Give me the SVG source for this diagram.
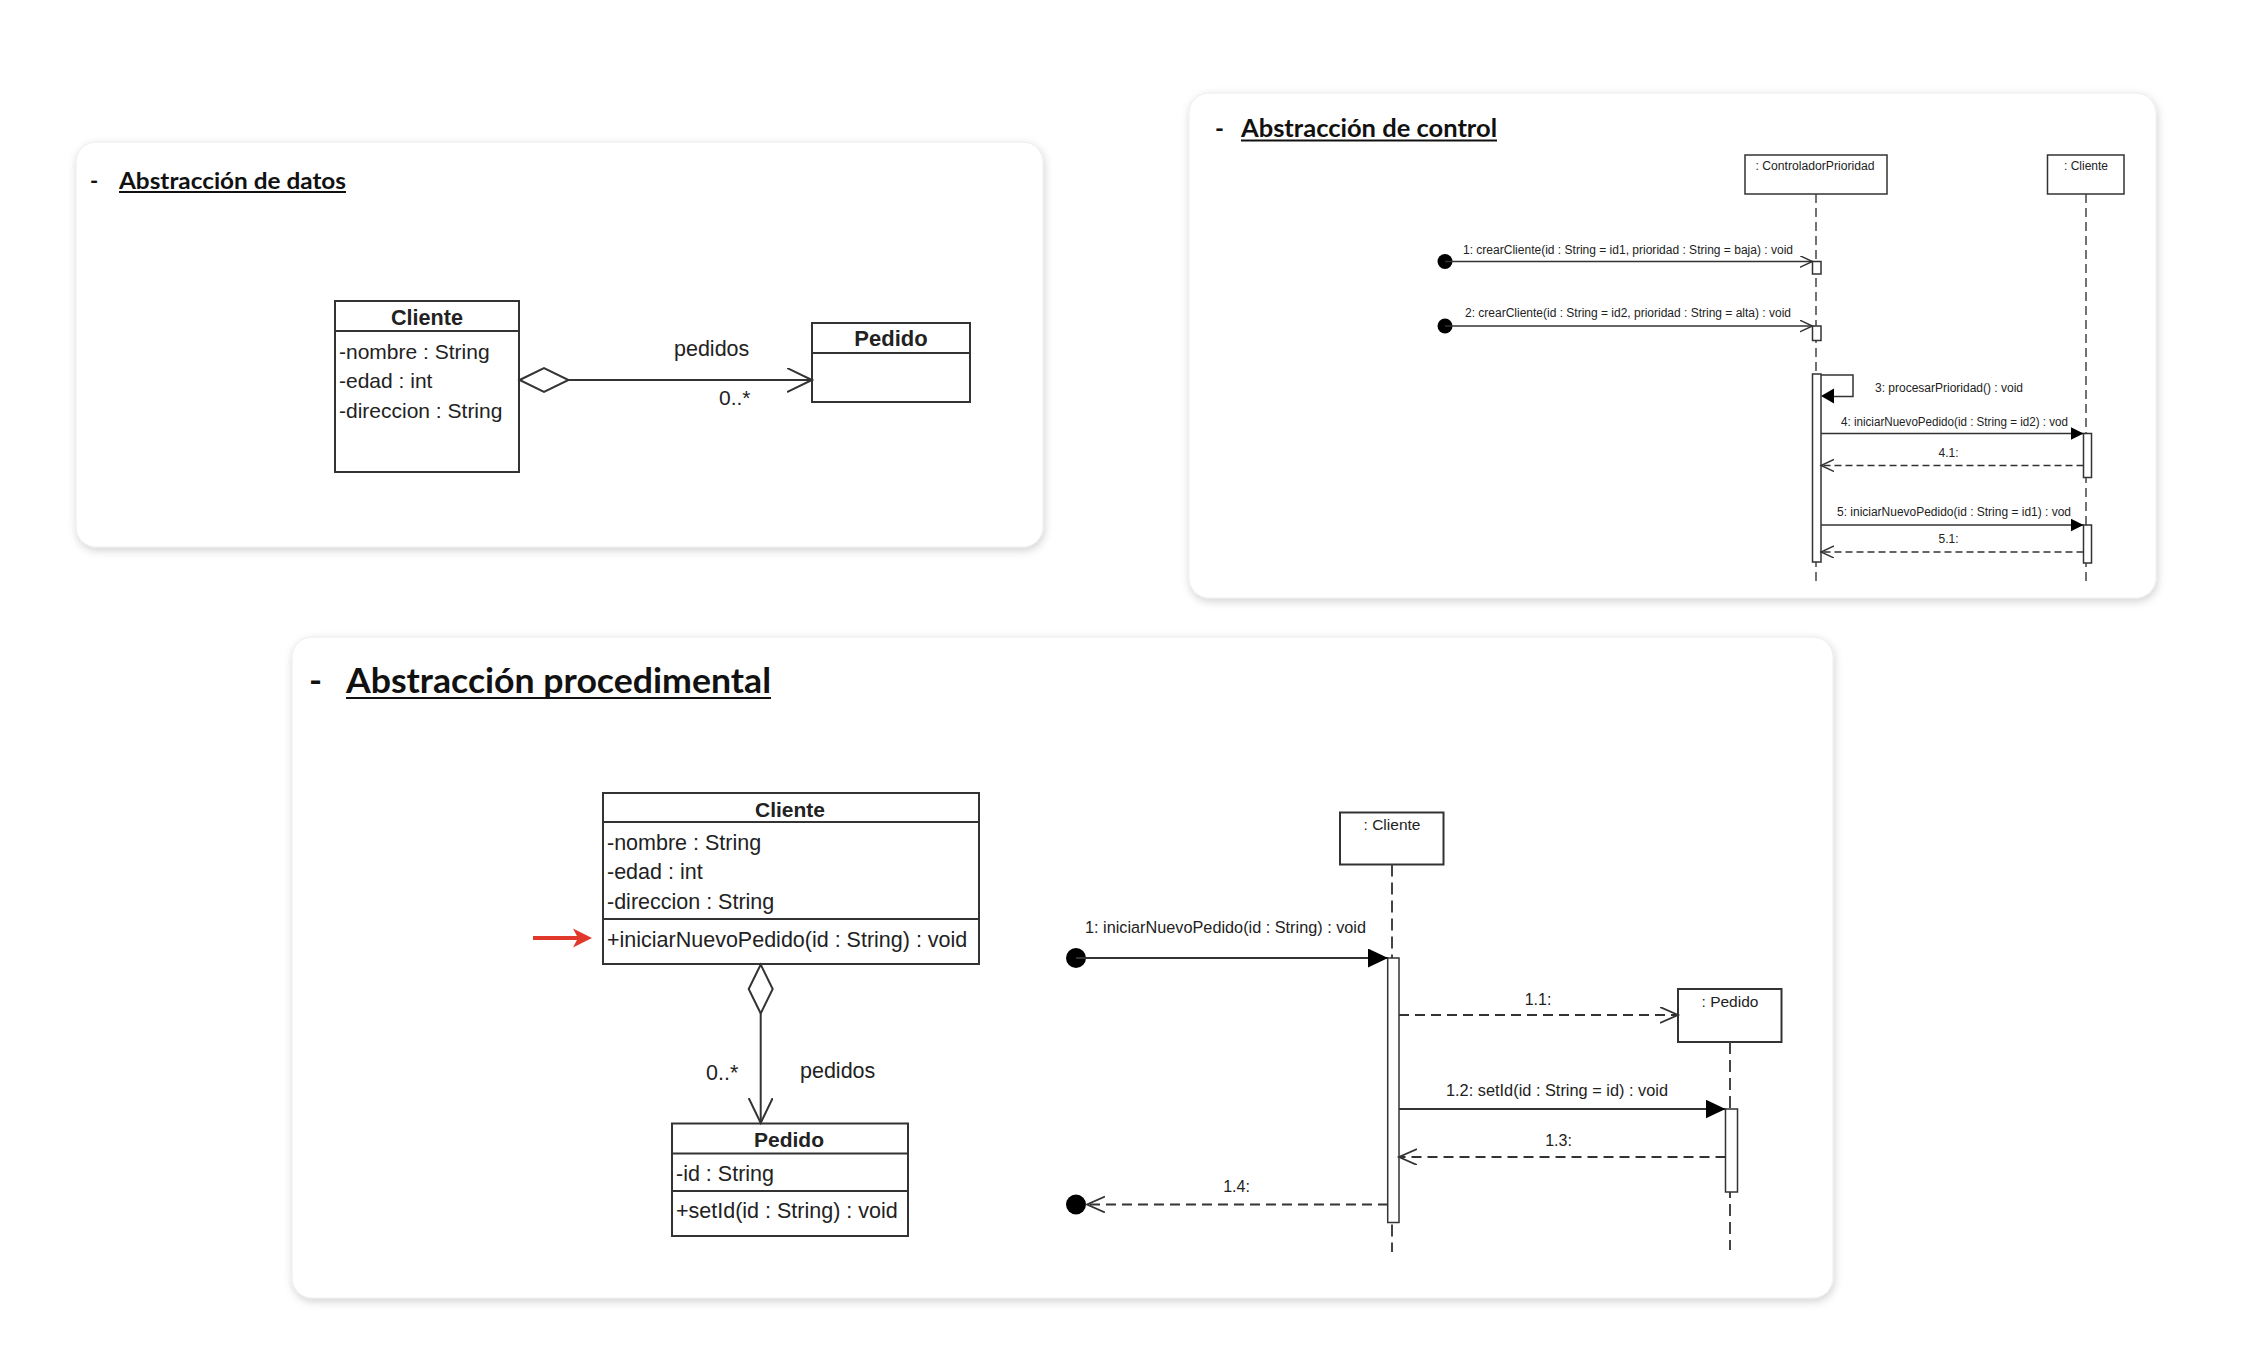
<svg xmlns="http://www.w3.org/2000/svg" width="2246" height="1364" viewBox="0 0 2246 1364">
  <style>
    .card { fill: #ffffff; stroke: #ececec; stroke-width: 1; }
    .title { font-family: Lato, "Open Sans", "Liberation Sans", sans-serif; font-weight: bold; fill: #111; }
    .uline { stroke: #111; stroke-width: 2; }
    .box { fill: #ffffff; stroke: #333; stroke-width: 2; }
    .sep { stroke: #333; stroke-width: 2; }
    .t { font-family: "Liberation Sans", Arial, sans-serif; fill: #222; }
    .b { font-weight: bold; }
    .line { fill: none; stroke: #333; stroke-width: 2; }
    .thin { fill: none; stroke: #333; stroke-width: 1.5; }
    .dash { stroke-dasharray: 10 6; }
    .dash-s { stroke-dasharray: 7 4; }
    .life { fill: none; stroke: #444; stroke-width: 2; stroke-dasharray: 12 6; }
    .life-s { fill: none; stroke: #444; stroke-width: 1.5; stroke-dasharray: 9 5; }
    .act { fill: #ffffff; stroke: #333; stroke-width: 1.5; }
    .dot { fill: #000; }
  </style>
  <defs>
    <filter id="card-shadow" x="-5%" y="-5%" width="110%" height="115%">
      <feDropShadow dx="1" dy="3" stdDeviation="4" flood-color="#000" flood-opacity="0.18"/>
    </filter>
    <marker id="open-uml" markerUnits="userSpaceOnUse" markerWidth="28" markerHeight="28" refX="25" refY="12" orient="auto">
      <path d="M0,0 L25,12 L0,24" fill="none" stroke="#333" stroke-width="2"/>
    </marker>
    <marker id="open-lg" markerUnits="userSpaceOnUse" markerWidth="22" markerHeight="20" refX="18" refY="8" orient="auto">
      <path d="M0,0 L18,8 L0,16" fill="none" stroke="#333" stroke-width="1.8"/>
    </marker>
    <marker id="fill-lg" markerUnits="userSpaceOnUse" markerWidth="22" markerHeight="20" refX="20" refY="9.5" orient="auto">
      <path d="M0,0 L20,9.5 L0,19 Z" fill="#000"/>
    </marker>
    <marker id="open-sm" markerUnits="userSpaceOnUse" markerWidth="16" markerHeight="14" refX="13" refY="6" orient="auto">
      <path d="M0,0 L13,6 L0,12" fill="none" stroke="#333" stroke-width="1.4"/>
    </marker>
    <marker id="fill-sm" markerUnits="userSpaceOnUse" markerWidth="16" markerHeight="16" refX="13" refY="6.5" orient="auto">
      <path d="M0,0 L13,6.5 L0,13 Z" fill="#000"/>
    </marker>
  </defs>

  <rect width="2246" height="1364" fill="#ffffff"/>

  <!-- cards -->
  <g id="cards" filter="url(#card-shadow)">
    <rect class="card" x="76" y="142" width="967" height="405" rx="20"/>
    <rect class="card" x="1189" y="93" width="967" height="505" rx="20"/>
    <rect class="card" x="292" y="637" width="1541" height="661" rx="20"/>
  </g>

  <!-- headings -->
  <g id="headings">
    <text class="title" x="90" y="189" font-size="22">-</text>
    <text class="title" x="119" y="189" font-size="22" textLength="227" lengthAdjust="spacingAndGlyphs">Abstracción de datos</text>
    <line class="uline" x1="119" y1="192" x2="346" y2="192"/>

    <text class="title" x="1215" y="137" font-size="24">-</text>
    <text class="title" x="1241" y="137" font-size="24" textLength="256" lengthAdjust="spacingAndGlyphs">Abstracción de control</text>
    <line class="uline" x1="1241" y1="140.5" x2="1497" y2="140.5"/>

    <text class="title" x="309" y="693" font-size="35">-</text>
    <text class="title" x="346" y="693" font-size="35" textLength="425" lengthAdjust="spacingAndGlyphs">Abstracción procedimental</text>
    <line class="uline" x1="346" y1="698" x2="771" y2="698" stroke-width="2.5"/>
  </g>

  <!-- ===== data abstraction: class diagram ===== -->
  <g id="datos-cliente">
    <rect class="box" x="335" y="301" width="184" height="171"/>
    <line class="sep" x1="335" y1="331" x2="519" y2="331"/>
    <text class="t b" x="427" y="325" font-size="22" text-anchor="middle" textLength="72" lengthAdjust="spacingAndGlyphs">Cliente</text>
    <text class="t" x="339" y="358.5" font-size="21">-nombre : String</text>
    <text class="t" x="339" y="388" font-size="21">-edad : int</text>
    <text class="t" x="339" y="417.5" font-size="21">-direccion : String</text>
  </g>
  <g id="datos-pedido">
    <rect class="box" x="812" y="323" width="158" height="79"/>
    <line class="sep" x1="812" y1="353" x2="970" y2="353"/>
    <text class="t b" x="891" y="346" font-size="22" text-anchor="middle">Pedido</text>
  </g>

  <!-- ===== control abstraction: sequence diagram ===== -->
  <g id="ctl-controlador">
    <rect class="act" x="1745" y="155" width="142" height="39"/>
    <text class="t" x="1815" y="170" font-size="12" text-anchor="middle" textLength="119" lengthAdjust="spacingAndGlyphs">: ControladorPrioridad</text>
    <line class="life-s" x1="1816" y1="194" x2="1816" y2="585"/>
    <rect class="act" x="1812.5" y="261.5" width="8.5" height="12.5"/>
    <rect class="act" x="1812.5" y="326" width="8.5" height="14.5"/>
    <rect class="act" x="1812.5" y="374" width="8.5" height="188"/>
  </g>
  <g id="ctl-cliente">
    <rect class="act" x="2047.5" y="155" width="76.5" height="39"/>
    <text class="t" x="2086" y="170" font-size="12" text-anchor="middle">: Cliente</text>
    <line class="life-s" x1="2086" y1="194" x2="2086" y2="585"/>
    <rect class="act" x="2083.5" y="433.5" width="8" height="44"/>
    <rect class="act" x="2083.5" y="525" width="8" height="38"/>
  </g>

  <!-- ===== procedural abstraction: class diagram ===== -->
  <g id="proc-cliente">
    <rect class="box" x="603" y="793" width="376" height="171"/>
    <line class="sep" x1="603" y1="822" x2="979" y2="822"/>
    <line class="sep" x1="603" y1="919" x2="979" y2="919"/>
    <text class="t b" x="790" y="816.5" font-size="21" text-anchor="middle">Cliente</text>
    <text class="t" x="607" y="850" font-size="21.5">-nombre : String</text>
    <text class="t" x="607" y="879" font-size="21.5">-edad : int</text>
    <text class="t" x="607" y="908.5" font-size="21.5">-direccion : String</text>
    <text class="t" x="607" y="946.5" font-size="21.5">+iniciarNuevoPedido(id : String) : void</text>
  </g>
  <g id="proc-pedido">
    <rect class="box" x="672" y="1123.5" width="236" height="112.5"/>
    <line class="sep" x1="672" y1="1153.5" x2="908" y2="1153.5"/>
    <line class="sep" x1="672" y1="1191" x2="908" y2="1191"/>
    <text class="t b" x="789" y="1146.5" font-size="21" text-anchor="middle">Pedido</text>
    <text class="t" x="676" y="1180.5" font-size="21.5">-id : String</text>
    <text class="t" x="676" y="1217.5" font-size="21.5">+setId(id : String) : void</text>
  </g>
  <g id="proc-highlight">
    <line x1="533" y1="938" x2="580" y2="938" stroke="#e0392b" stroke-width="4"/>
    <path d="M573,928.5 L592,938 L573,947.5 L578,938 Z" fill="#e0392b"/>
  </g>

  <!-- ===== procedural abstraction: sequence diagram ===== -->
  <g id="seq-cliente">
    <rect class="box" x="1340" y="812.5" width="103.5" height="52"/>
    <text class="t" x="1392" y="829.5" font-size="15.5" text-anchor="middle">: Cliente</text>
    <line class="life" x1="1392" y1="864.5" x2="1392" y2="1252"/>
    <rect class="act" x="1387.7" y="958" width="11.3" height="264.5"/>
  </g>
  <g id="seq-pedido">
    <rect class="box" x="1678" y="989" width="103.5" height="53"/>
    <text class="t" x="1730" y="1007" font-size="15.5" text-anchor="middle">: Pedido</text>
    <line class="life" x1="1730" y1="1042" x2="1730" y2="1250"/>
    <rect class="act" x="1725.5" y="1109" width="12" height="83"/>
  </g>

  <!-- connectors -->
  <g id="connectors">
    <!-- data abstraction: aggregation Cliente to Pedido -->
    <g id="agg-datos">
      <path d="M519.6,380 L544,368 L568.5,380 L544,392 Z" fill="#fff" stroke="#333" stroke-width="2"/>
      <line class="line" x1="568.5" y1="380" x2="812" y2="380" marker-end="url(#open-uml)"/>
      <text class="t" x="674" y="356" font-size="21.5">pedidos</text>
      <text class="t" x="719" y="405" font-size="21">0..*</text>
    </g>

    <!-- control abstraction messages -->
    <g id="ctl-msgs">
      <circle class="dot" cx="1445" cy="261.5" r="7.5"/>
      <line class="thin" x1="1445" y1="261.5" x2="1812.5" y2="261.5" marker-end="url(#open-sm)"/>
      <text class="t" x="1463" y="254" font-size="12" textLength="330" lengthAdjust="spacingAndGlyphs">1: crearCliente(id : String = id1, prioridad : String = baja) : void</text>

      <circle class="dot" cx="1445" cy="326" r="7.5"/>
      <line class="thin" x1="1445" y1="326" x2="1812.5" y2="326" marker-end="url(#open-sm)"/>
      <text class="t" x="1465" y="317" font-size="12" textLength="326" lengthAdjust="spacingAndGlyphs">2: crearCliente(id : String = id2, prioridad : String = alta) : void</text>

      <polyline class="thin" points="1821,375 1853,375 1853,396.5 1834,396.5"/>
      <path d="M1821,396 L1834,388.5 L1834,403.5 Z" fill="#000"/>
      <text class="t" x="1875" y="392" font-size="12" textLength="148" lengthAdjust="spacingAndGlyphs">3: procesarPrioridad() : void</text>

      <line class="thin" x1="1821" y1="433.5" x2="2083.5" y2="433.5" marker-end="url(#fill-sm)"/>
      <text class="t" x="1841" y="426" font-size="12" textLength="227" lengthAdjust="spacingAndGlyphs">4: iniciarNuevoPedido(id : String = id2) : vod</text>
      <line class="thin dash-s" x1="2083.5" y1="465.5" x2="1821" y2="465.5" marker-end="url(#open-sm)"/>
      <text class="t" x="1948.5" y="457" font-size="12" text-anchor="middle">4.1:</text>

      <line class="thin" x1="1821" y1="525" x2="2083.5" y2="525" marker-end="url(#fill-sm)"/>
      <text class="t" x="1837" y="516" font-size="12" textLength="234" lengthAdjust="spacingAndGlyphs">5: iniciarNuevoPedido(id : String = id1) : vod</text>
      <line class="thin dash-s" x1="2083.5" y1="552" x2="1821" y2="552" marker-end="url(#open-sm)"/>
      <text class="t" x="1948.5" y="543" font-size="12" text-anchor="middle">5.1:</text>
    </g>

    <!-- procedural abstraction: aggregation Cliente to Pedido -->
    <g id="agg-proc">
      <path d="M760.7,964.5 L772.7,989 L760.7,1013.5 L748.7,989 Z" fill="#fff" stroke="#333" stroke-width="2"/>
      <line class="line" x1="760.7" y1="1013.5" x2="760.7" y2="1123" marker-end="url(#open-uml)"/>
      <text class="t" x="706" y="1079.5" font-size="21.5">0..*</text>
      <text class="t" x="800" y="1077.5" font-size="21.5">pedidos</text>
    </g>

    <!-- procedural abstraction messages -->
    <g id="seq-msgs">
      <circle class="dot" cx="1076" cy="958" r="10"/>
      <line class="line" x1="1076" y1="958" x2="1388" y2="958" marker-end="url(#fill-lg)"/>
      <text class="t" x="1085" y="932.5" font-size="16.3" textLength="281" lengthAdjust="spacingAndGlyphs">1: iniciarNuevoPedido(id : String) : void</text>

      <line class="line dash" x1="1399" y1="1015" x2="1678" y2="1015" marker-end="url(#open-lg)"/>
      <text class="t" x="1538" y="1004.5" font-size="16" text-anchor="middle">1.1:</text>

      <line class="line" x1="1399" y1="1109" x2="1725.5" y2="1109" marker-end="url(#fill-lg)"/>
      <text class="t" x="1446" y="1095.5" font-size="16.3" textLength="222" lengthAdjust="spacingAndGlyphs">1.2: setId(id : String = id) : void</text>

      <line class="line dash" x1="1725.5" y1="1157" x2="1399" y2="1157" marker-end="url(#open-lg)"/>
      <text class="t" x="1558.5" y="1145.5" font-size="16" text-anchor="middle">1.3:</text>

      <circle class="dot" cx="1076" cy="1204.5" r="10"/>
      <line class="line dash" x1="1388" y1="1204.5" x2="1087" y2="1204.5" marker-end="url(#open-lg)"/>
      <text class="t" x="1236.5" y="1192" font-size="16" text-anchor="middle">1.4:</text>
    </g>
  </g>
</svg>
